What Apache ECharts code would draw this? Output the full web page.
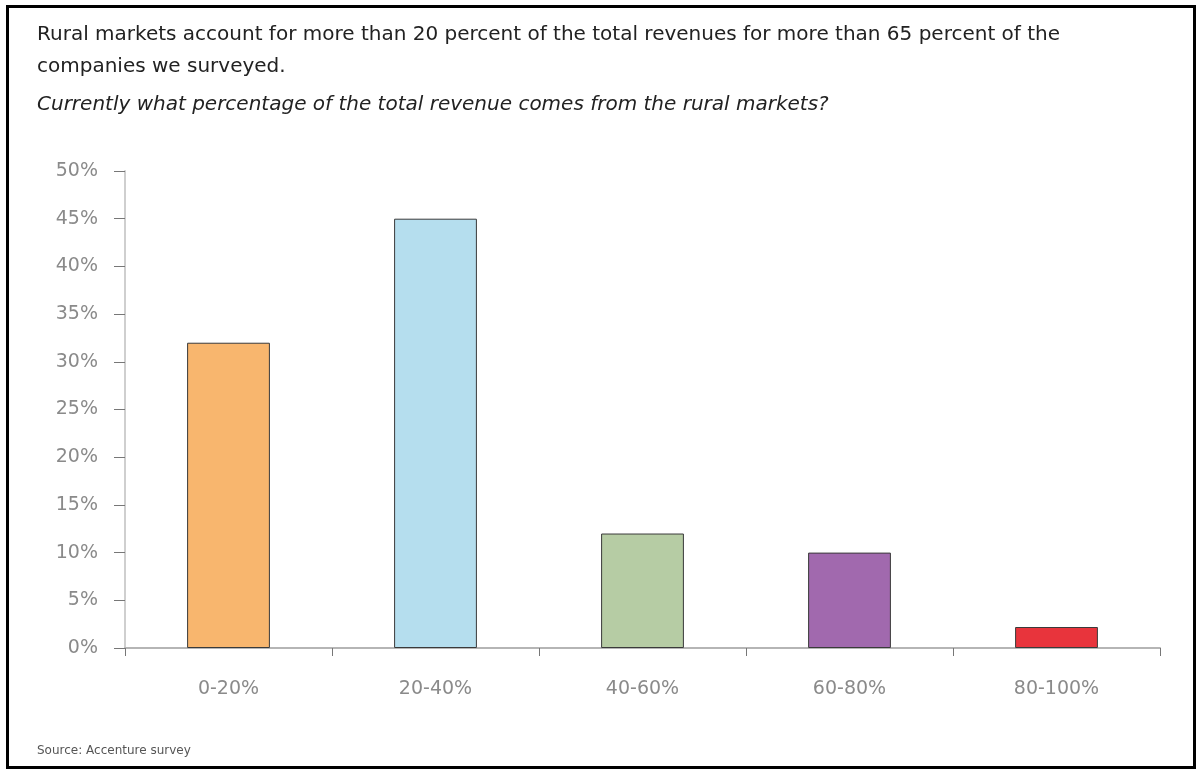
<!DOCTYPE html>
<html>
<head>
<meta charset="utf-8">
<title>Rural revenue share</title>
<script src="https://cdn.jsdelivr.net/npm/echarts@6/dist/echarts.min.js"></script>
<style>
  html, body { margin: 0; padding: 0; background: #fff; }
  .frame {
    position: absolute;
    left: 6px; top: 5px; width: 1190px; height: 764px;
    border: 3px solid #000;
    box-sizing: border-box;
  }
  #chart { position: absolute; left: 0; top: 0; width: 1203px; height: 774px; }
</style>
</head>
<body>
<div class="frame"></div>
<div id="chart"></div>
<script>
// 数据
var categories = ['0-20%', '20-40%', '40-60%', '60-80%', '80-100%']
var shares = [32, 45, 12, 10, 2.2]
var yTicks = ['0%', '5%', '10%', '15%', '20%', '25%', '30%', '35%', '40%', '45%', '50%']

var barColors = ['#F8B66E', '#B5DEEE', '#B6CCA4', '#A169AE', '#E8343C']
var font = '"DejaVu Sans", "Noto Sans", sans-serif'

var chart = echarts.init(document.getElementById('chart'))
chart.setOption({
  animation: false,
  title: [
    {
      text: 'Rural markets account for more than 20 percent of the total revenues for more than 65 percent of the\ncompanies we surveyed.',
      left: 32,
      top: 14,
      textStyle: { fontFamily: font, fontSize: 20, fontWeight: 'normal', color: '#222', lineHeight: 32 }
    },
    {
      text: 'Currently what percentage of the total revenue comes from the rural markets?',
      left: 32,
      top: 90,
      textStyle: { fontFamily: font, fontSize: 20, fontWeight: 'normal', fontStyle: 'italic', color: '#222' }
    },
    {
      text: 'Source: Accenture survey',
      left: 32,
      top: 740,
      textStyle: { fontFamily: font, fontSize: 12, fontWeight: 'normal', color: '#555' }
    }
  ],
  grid: { left: 125, right: 43, top: 171, bottom: 126 },
  xAxis: {
    type: 'category',
    data: categories,
    axisLine: { lineStyle: { color: '#b5b5b5', width: 2 } },
    axisTick: { show: true, length: 8, lineStyle: { color: '#777' } },
    axisLabel: { margin: 32, fontFamily: font, fontSize: 19, color: '#8a8a8a' }
  },
  yAxis: {
    type: 'value',
    min: 0,
    max: 50,
    interval: 5,
    axisLine: { show: true, lineStyle: { color: '#cfcfcf', width: 2 } },
    axisTick: { show: true, length: 11, lineStyle: { color: '#777' } },
    splitLine: { show: false },
    axisLabel: {
      margin: 27,
      fontFamily: font,
      fontSize: 19,
      color: '#8a8a8a',
      formatter: function (v) { return yTicks[Math.round(v / 5)] }
    }
  },
  series: [{
    type: 'bar',
    barWidth: '40%',
    data: shares.map(function (v, i) {
      return {
        value: v,
        itemStyle: { color: barColors[i], borderColor: '#3a3a3a', borderWidth: 1 }
      }
    })
  }]
})
</script>
</body>
</html>
